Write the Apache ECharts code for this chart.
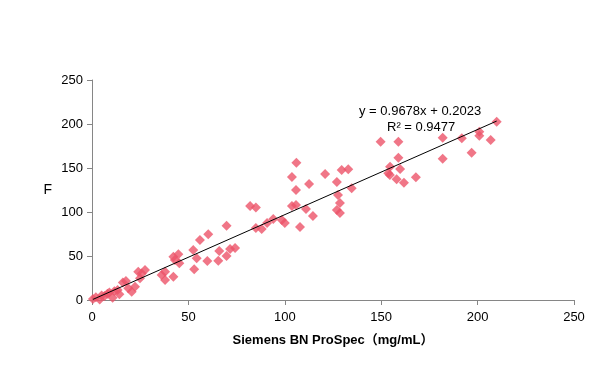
<!DOCTYPE html>
<html>
<head>
<meta charset="utf-8">
<script src="https://cdn.jsdelivr.net/npm/echarts@6/dist/echarts.min.js"></script>
<style>
html,body{margin:0;padding:0;background:#fff;}
#chart{width:606px;height:379px;}
</style>
</head>
<body>
<div id="chart"></div>
<script>
// Data
const xValues = [0.5,2,4,5,6.5,8,9,10.7,11.6,13.3,14.2,16,17.6,18.8,20.6,22.3,24,25.8,27.5,24.9,
  36.1,37.9,37.9,42.2,43,42.2,44.8,45.3,53,52.5,54.3,56,59.8,60.3,65.5,66,69.8,69.8,71.6,74.2,
  82,85,85,88,90.8,94,98.5,100,103.7,105.8,107.9,111,114.6,103.7,105.8,106,112.6,120.9,127,127.6,
  128.6,127,128.6,129.5,132.9,134.7,149.7,158.9,158.9,154.6,159.8,153.7,154.5,158,161.8,168,
  181.9,181.9,191.8,196.9,200.9,200.9,206.8,209.9];
const yValues = [1,3,0.5,5,4.5,7,8.5,2.6,10,11.5,6.5,20,21.6,13.3,9.5,15,32,30,34,24.6,
  28.4,22.7,32.2,26.5,45.5,49.2,52,41.7,34.9,56.8,47.4,68.2,44.3,74.7,44.7,55.7,50,84.4,58,59,
  106.8,105,81.8,80.7,87.5,92,90.9,87.5,106.8,108,83,103.4,95.5,139.8,125,156,131.8,143.2,134,119.3,
  110.2,102.3,98.9,147.7,148.5,126.9,179.9,179.9,161.7,151.5,148.9,144,142,137.2,133.3,139.4,
  184.4,160.6,183.8,167.4,191.3,186.7,181.8,202.6];
const xTicks = [0,50,100,150,200,250];
const yTicks = [0,50,100,150,200,250];
const slope = 0.9678;
const intercept = 0.2023;
const r2 = 0.9477;
const xName = 'Siemens BN ProSpec（mg/mL）';
const yName = 'F';

const points = xValues.map((x,i)=>[x,yValues[i]]);
const xMinData = Math.min(...xValues), xMaxData = Math.max(...xValues);
const trend = [[xMinData, slope*xMinData+intercept],[xMaxData, slope*xMaxData+intercept]];

const font = 'Arial, "Liberation Sans", "Noto Sans CJK SC", sans-serif';
const axisColor = '#868686';
const chart = echarts.init(document.getElementById('chart'), null, {renderer:'canvas'});
chart.setOption({
  animation:false,
  backgroundColor:'#fff',
  grid:{left:92,right:32,top:80,bottom:79,containLabel:false},
  xAxis:{
    type:'value',min:xTicks[0],max:xTicks[xTicks.length-1],interval:50,
    name:xName,nameLocation:'middle',nameGap:34,
    nameTextStyle:{fontFamily:font,fontSize:13,fontWeight:'bold',color:'#000'},
    axisLine:{show:true,lineStyle:{color:axisColor,width:1}},
    axisTick:{show:true,inside:false,length:5,lineStyle:{color:axisColor}},
    axisLabel:{fontFamily:font,fontSize:13,color:'#000',margin:11},
    splitLine:{show:false}
  },
  yAxis:{
    type:'value',min:yTicks[0],max:yTicks[yTicks.length-1],interval:50,
    name:yName,nameLocation:'middle',nameGap:40,nameRotate:0,
    nameTextStyle:{fontFamily:font,fontSize:14,color:'#000'},
    axisLine:{show:true,lineStyle:{color:axisColor,width:1}},
    axisTick:{show:true,inside:false,length:5,lineStyle:{color:axisColor}},
    axisLabel:{fontFamily:font,fontSize:13,color:'#000',margin:9},
    splitLine:{show:false}
  },
  series:[
    {type:'scatter',data:points,symbol:'diamond',symbolSize:10,
     itemStyle:{color:'#EC5469'},z:2},
    {type:'line',data:trend,symbol:'none',lineStyle:{color:'#000',width:1},z:3,silent:true}
  ],
  graphic:[
    {type:'text',left:359,top:105,style:{text:'y = '+slope+'x + '+intercept,fontFamily:font,fontSize:13,fill:'#000'}},
    {type:'text',left:387,top:121,style:{text:'R² = '+r2,fontFamily:font,fontSize:13,fill:'#000'}}
  ]
});
</script>
</body>
</html>
